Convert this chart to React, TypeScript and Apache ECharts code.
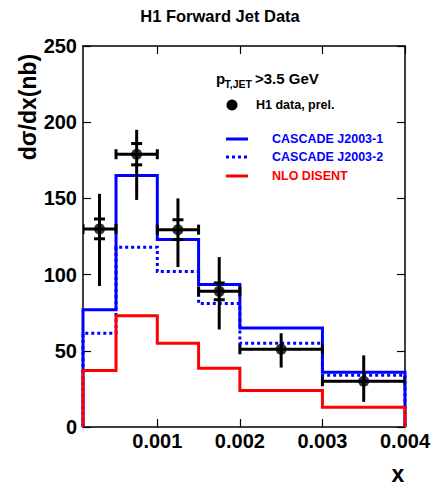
import React, { useEffect, useRef } from "react";
import * as echarts from "echarts";

// ---- data ----
const binEdges = [0.0001, 0.0005, 0.001, 0.0015, 0.002, 0.003, 0.004];
const cascadeJ1 = [77, 165, 123, 93.5, 65, 36];
const cascadeJ2 = [61.5, 118, 102, 81, 55, 34];
const nloDisent = [37, 73, 55, 38.5, 24, 13];

const dataX = [0.0003, 0.00075, 0.00125, 0.00175, 0.0025, 0.0035];
const dataY = [130, 179, 129.5, 89, 51, 30];
const totErrUp = [23, 16, 20.5, 22.5, 10.5, 17];
const totErrDown = [37.5, 30, 24.5, 25, 12, 13.5];
const statErr = [6.5, 7, 6.5, 5.5, 0, 0];

const xTicks = [0.001, 0.002, 0.003, 0.004];
const yMin = 0;
const yMax = 250;
const yStep = 50;

const FONT = '"Liberation Sans", Arial, Helvetica, sans-serif';

function histPoints(edges: number[], vals: number[]) {
  const pts: number[][] = [[edges[0], 0]];
  for (let i = 0; i < vals.length; i++) {
    pts.push([edges[i], vals[i]]);
    pts.push([edges[i + 1], vals[i]]);
  }
  pts.push([edges[edges.length - 1], 0]);
  return pts;
}

export default function App() {
  const ref = useRef<HTMLDivElement>(null);

  useEffect(() => {
    if (!ref.current) return;
    const chart = echarts.init(ref.current, undefined, { renderer: "svg" });
    const xMin = binEdges[0];
    const xMax = binEdges[binEdges.length - 1];

    const axisLineStyle = { color: "#000", width: 1.5 };
    const tickStyle = { color: "#000", width: 1.2 };

    const errData = dataX.map((x, i) => [
      x,
      dataY[i],
      binEdges[i],
      binEdges[i + 1],
      totErrDown[i],
      totErrUp[i],
      statErr[i],
    ]);

    const histLine = (name: string, vals: number[], color: string, type: string, z: number) => ({
      name,
      type: "line",
      data: histPoints(binEdges, vals),
      symbol: "none",
      showSymbol: false,
      silent: true,
      clip: true,
      z,
      lineStyle: { color, width: 3, type, cap: "butt", join: "miter" },
    });

    const option: any = {
      animation: false,
      grid: { left: 83, right: 33, top: 46, bottom: 60, outerBoundsMode: "none", containLabel: false },
      xAxis: [
        {
          type: "value",
          position: "bottom",
          min: xMin,
          max: xMax,
          axisLine: { show: true, onZero: false, lineStyle: axisLineStyle },
          axisTick: { show: true, inside: true, length: 8, customValues: xTicks, lineStyle: tickStyle },
          axisLabel: {
            show: true,
            customValues: xTicks,
            formatter: (v: number) => v.toFixed(3),
            fontSize: 20,
            fontWeight: "bold",
            fontFamily: FONT,
            color: "#000",
            margin: 4,
          },
          splitLine: { show: false },
        },
        {
          type: "value",
          position: "top",
          min: xMin,
          max: xMax,
          axisLine: { show: true, onZero: false, lineStyle: axisLineStyle },
          axisTick: { show: true, inside: true, length: 8, customValues: xTicks, lineStyle: tickStyle },
          axisLabel: { show: false },
          splitLine: { show: false },
        },
      ],
      yAxis: [
        {
          type: "value",
          position: "left",
          min: yMin,
          max: yMax,
          interval: yStep,
          axisLine: { show: true, onZero: false, lineStyle: axisLineStyle },
          axisTick: { show: true, inside: true, length: 8, lineStyle: tickStyle },
          axisLabel: {
            fontSize: 20,
            fontWeight: "bold",
            fontFamily: FONT,
            color: "#000",
            margin: 6,
          },
          splitLine: { show: false },
        },
        {
          type: "value",
          position: "right",
          min: yMin,
          max: yMax,
          interval: yStep,
          axisLine: { show: true, onZero: false, lineStyle: axisLineStyle },
          axisTick: { show: true, inside: true, length: 8, lineStyle: tickStyle },
          axisLabel: { show: false },
          splitLine: { show: false },
        },
      ],
      series: [
        histLine("CASCADE J2003-1", cascadeJ1, "#0000ff", "solid", 2),
        histLine("CASCADE J2003-2", cascadeJ2, "#0000ff", "dotted", 3),
        histLine("NLO DISENT", nloDisent, "#ff0000", "solid", 4),
        {
          name: "errors",
          type: "custom",
          data: errData,
          clip: true,
          z: 5,
          silent: true,
          encode: { x: 0, y: 1 },
          renderItem: (_params: any, api: any) => {
            const x = api.value(0);
            const y = api.value(1);
            const xl = api.value(2);
            const xh = api.value(3);
            const dl = api.value(4);
            const du = api.value(5);
            const s = api.value(6);
            const pl = api.coord([xl, y]);
            const ph = api.coord([xh, y]);
            const pt = api.coord([x, y + du]);
            const pb = api.coord([x, y - dl]);
            const s1 = api.coord([x, y + s]);
            const s2 = api.coord([x, y - s]);
            const style = { stroke: "#000", lineWidth: 3 };
            const cap = 5;
            const tick = 5.5;
            const ln = (x1: number, y1: number, x2: number, y2: number) => ({
              type: "line",
              shape: { x1, y1, x2, y2 },
              style,
            });
            const children: any[] = [
              ln(pl[0], pl[1], ph[0], ph[1]),
              ln(pl[0], pl[1] - cap, pl[0], pl[1] + cap),
              ln(ph[0], ph[1] - cap, ph[0], ph[1] + cap),
              ln(pt[0], pt[1], pb[0], pb[1]),
            ];
            if (s > 0) {
              children.push(ln(s1[0] - tick, s1[1], s1[0] + tick, s1[1]));
              children.push(ln(s2[0] - tick, s2[1], s2[0] + tick, s2[1]));
            }
            return { type: "group", children };
          },
        },
        {
          name: "H1 data, prel.",
          type: "scatter",
          data: dataX.map((x, i) => [x, dataY[i]]),
          symbol: "circle",
          symbolSize: 11,
          itemStyle: { color: "#000" },
          silent: true,
          z: 6,
        },
      ],
      graphic: [
        {
          type: "text",
          x: 220,
          y: 16,
          style: {
            text: "H1 Forward Jet Data",
            fontSize: 16.5,
            fontWeight: "bold",
            fontFamily: FONT,
            fill: "#000",
            align: "center",
            verticalAlign: "middle",
          },
        },
        {
          type: "text",
          x: 28,
          y: 107,
          rotation: Math.PI / 2,
          style: {
            text: "dσ/dx(nb)",
            fontSize: 23,
            fontWeight: "bold",
            fontFamily: FONT,
            fill: "#000",
            align: "center",
            verticalAlign: "middle",
          },
        },
        {
          type: "text",
          x: 398,
          y: 474,
          style: {
            text: "x",
            fontSize: 23,
            fontWeight: "bold",
            fontFamily: FONT,
            fill: "#000",
            align: "center",
            verticalAlign: "middle",
          },
        },
        // legend header
        {
          type: "text",
          x: 216,
          y: 78,
          style: { text: "p", fontSize: 15, fontWeight: "bold", fontFamily: FONT, fill: "#000", align: "left", verticalAlign: "middle" },
        },
        {
          type: "text",
          x: 224.5,
          y: 84,
          style: { text: "T,JET", fontSize: 10.5, fontWeight: "bold", fontFamily: FONT, fill: "#000", align: "left", verticalAlign: "middle" },
        },
        {
          type: "text",
          x: 255,
          y: 78,
          style: { text: ">3.5 GeV", fontSize: 15, fontWeight: "bold", fontFamily: FONT, fill: "#000", align: "left", verticalAlign: "middle" },
        },
        // legend entries
        { type: "circle", shape: { cx: 232, cy: 105, r: 5.5 }, style: { fill: "#000" } },
        {
          type: "text",
          x: 256,
          y: 105,
          style: { text: "H1 data, prel.", fontSize: 12.5, fontWeight: "bold", fontFamily: FONT, fill: "#000", align: "left", verticalAlign: "middle" },
        },
        { type: "line", shape: { x1: 226, y1: 139, x2: 248, y2: 139 }, style: { stroke: "#0000ff", lineWidth: 3 } },
        {
          type: "text",
          x: 272,
          y: 139,
          style: { text: "CASCADE J2003-1", fontSize: 12.5, fontWeight: "bold", fontFamily: FONT, fill: "#0000ff", align: "left", verticalAlign: "middle" },
        },
        { type: "line", shape: { x1: 226, y1: 157, x2: 248, y2: 157 }, style: { stroke: "#0000ff", lineWidth: 3, lineDash: [3, 3] } },
        {
          type: "text",
          x: 272,
          y: 157,
          style: { text: "CASCADE J2003-2", fontSize: 12.5, fontWeight: "bold", fontFamily: FONT, fill: "#0000ff", align: "left", verticalAlign: "middle" },
        },
        { type: "line", shape: { x1: 226, y1: 176, x2: 248, y2: 176 }, style: { stroke: "#ff0000", lineWidth: 3 } },
        {
          type: "text",
          x: 272,
          y: 176,
          style: { text: "NLO DISENT", fontSize: 12.5, fontWeight: "bold", fontFamily: FONT, fill: "#ff0000", align: "left", verticalAlign: "middle" },
        },
      ],
    };

    chart.setOption(option);
    return () => {
      chart.dispose();
    };
  }, []);

  return (
    <div
      ref={ref}
      style={{ position: "fixed", left: 0, top: 0, width: 438, height: 487, background: "#fff" }}
    />
  );
}
